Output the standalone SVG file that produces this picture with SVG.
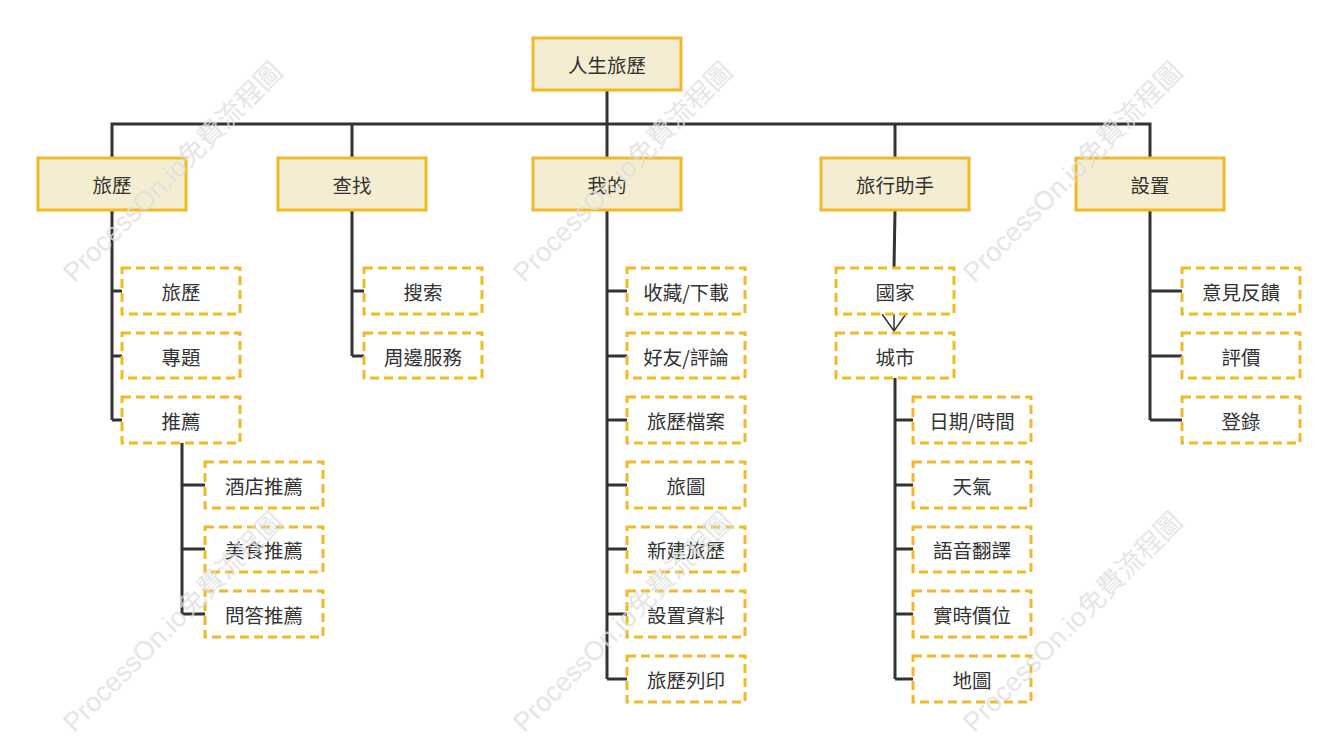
<svg xmlns="http://www.w3.org/2000/svg" width="1336" height="739" viewBox="0 0 1336 739">
<defs>
<style>
.root{fill:#f5edd1;stroke:#f1b927;stroke-width:3}
.sub{fill:#ffffff;stroke:#f1b927;stroke-width:3;stroke-dasharray:9 5}
.t{font-family:"Noto Sans CJK TC","Noto Sans CJK SC",sans-serif;font-size:19.5px;fill:#333333;text-anchor:middle;dominant-baseline:central}
.c{fill:none;stroke:#333333;stroke-width:3}
.a{fill:none;stroke:#333333;stroke-width:1.5}
.wm{font-family:"Liberation Sans","Noto Sans CJK TC",sans-serif;font-size:27px;fill:#dedede;fill-opacity:0.8;text-anchor:middle;dominant-baseline:central}
</style>
</defs>
<rect width="1336" height="739" fill="#ffffff"/>
<g id="connectors">
<path class="c" d="M607,90V124M112,158V124H1150V158M352,124V158M607,124V158M895,124V158"/>
<path class="c" d="M112,210V420M112,291H122M112,356H122M112,420H122"/>
<path class="c" d="M182,443V614M182,485H205M182,549H205M182,614H205"/>
<path class="c" d="M352,210V356M352,291H364M352,356H364"/>
<path class="c" d="M607,210V679M607,291H627M607,356H627M607,420H627M607,485H627M607,549H627M607,614H627M607,679H627"/>
<path class="c" d="M895,210L894,268"/>
<path class="a" d="M882,314L894,331L906,314M894,314V331"/>
<path class="c" d="M895,378V679M895,420H913M895,485H913M895,549H913M895,614H913M895,679H913"/>
<path class="c" d="M1150,210V420M1150,291H1182M1150,356H1182M1150,420H1182"/>
</g>
<g id="n-root"><rect class="root" x="533" y="38" width="148" height="52"/><text class="t" x="607" y="64">人生旅歷</text></g>
<g id="n-lvli"><rect class="root" x="38" y="158" width="148" height="52"/><text class="t" x="112" y="184">旅歷</text></g>
<g id="n-chazhao"><rect class="root" x="278" y="158" width="148" height="52"/><text class="t" x="352" y="184">查找</text></g>
<g id="n-wode"><rect class="root" x="533" y="158" width="148" height="52"/><text class="t" x="607" y="184">我的</text></g>
<g id="n-zhushou"><rect class="root" x="821" y="158" width="148" height="52"/><text class="t" x="895" y="184">旅行助手</text></g>
<g id="n-shezhi"><rect class="root" x="1076" y="158" width="148" height="52"/><text class="t" x="1150" y="184">設置</text></g>

<g id="n-lvli2"><rect class="sub" x="122" y="268" width="118" height="46"/><text class="t" x="181" y="291">旅歷</text></g>
<g id="n-zhuanti"><rect class="sub" x="122" y="333" width="118" height="45"/><text class="t" x="181" y="356">專題</text></g>
<g id="n-tuijian"><rect class="sub" x="122" y="397" width="118" height="46"/><text class="t" x="181" y="420">推薦</text></g>
<g id="n-jiudian"><rect class="sub" x="205" y="462" width="118" height="46"/><text class="t" x="264" y="485">酒店推薦</text></g>
<g id="n-meishi"><rect class="sub" x="205" y="527" width="118" height="45"/><text class="t" x="264" y="549">美食推薦</text></g>
<g id="n-wenda"><rect class="sub" x="205" y="591" width="118" height="46"/><text class="t" x="264" y="614">問答推薦</text></g>

<g id="n-sousuo"><rect class="sub" x="364" y="268" width="118" height="46"/><text class="t" x="423" y="291">搜索</text></g>
<g id="n-zhoubian"><rect class="sub" x="364" y="333" width="118" height="45"/><text class="t" x="423" y="356">周邊服務</text></g>

<g id="n-shoucang"><rect class="sub" x="627" y="268" width="118" height="46"/><text class="t" x="686" y="291">收藏/下載</text></g>
<g id="n-haoyou"><rect class="sub" x="627" y="333" width="118" height="45"/><text class="t" x="686" y="356">好友/評論</text></g>
<g id="n-dangan"><rect class="sub" x="627" y="397" width="118" height="46"/><text class="t" x="686" y="420">旅歷檔案</text></g>
<g id="n-lvtu"><rect class="sub" x="627" y="462" width="118" height="46"/><text class="t" x="686" y="485">旅圖</text></g>
<g id="n-xinjian"><rect class="sub" x="627" y="527" width="118" height="45"/><text class="t" x="686" y="549">新建旅歷</text></g>
<g id="n-ziliao"><rect class="sub" x="627" y="591" width="118" height="46"/><text class="t" x="686" y="614">設置資料</text></g>
<g id="n-lieyin"><rect class="sub" x="627" y="656" width="118" height="46"/><text class="t" x="686" y="679">旅歷列印</text></g>

<g id="n-guojia"><rect class="sub" x="836" y="268" width="118" height="46"/><text class="t" x="895" y="291">國家</text></g>
<g id="n-chengshi"><rect class="sub" x="836" y="333" width="118" height="45"/><text class="t" x="895" y="356">城市</text></g>
<g id="n-riqi"><rect class="sub" x="913" y="397" width="118" height="46"/><text class="t" x="972" y="420">日期/時間</text></g>
<g id="n-tianqi"><rect class="sub" x="913" y="462" width="118" height="46"/><text class="t" x="972" y="485">天氣</text></g>
<g id="n-fanyi"><rect class="sub" x="913" y="527" width="118" height="45"/><text class="t" x="972" y="549">語音翻譯</text></g>
<g id="n-jiawei"><rect class="sub" x="913" y="591" width="118" height="46"/><text class="t" x="972" y="614">實時價位</text></g>
<g id="n-ditu"><rect class="sub" x="913" y="656" width="118" height="46"/><text class="t" x="972" y="679">地圖</text></g>

<g id="n-fankui"><rect class="sub" x="1182" y="268" width="118" height="46"/><text class="t" x="1241" y="291">意見反饋</text></g>
<g id="n-pingjia"><rect class="sub" x="1182" y="333" width="118" height="45"/><text class="t" x="1241" y="356">評價</text></g>
<g id="n-denglu"><rect class="sub" x="1182" y="397" width="118" height="46"/><text class="t" x="1241" y="420">登錄</text></g>
<g id="watermarks">
<text class="wm" transform="translate(173,172) rotate(-45)">ProcessOn.io免費流程圖</text>
<text class="wm" transform="translate(623,172) rotate(-45)">ProcessOn.io免費流程圖</text>
<text class="wm" transform="translate(1073,172) rotate(-45)">ProcessOn.io免費流程圖</text>
<text class="wm" transform="translate(173,622) rotate(-45)">ProcessOn.io免費流程圖</text>
<text class="wm" transform="translate(623,622) rotate(-45)">ProcessOn.io免費流程圖</text>
<text class="wm" transform="translate(1073,622) rotate(-45)">ProcessOn.io免費流程圖</text>
</g>
</svg>
